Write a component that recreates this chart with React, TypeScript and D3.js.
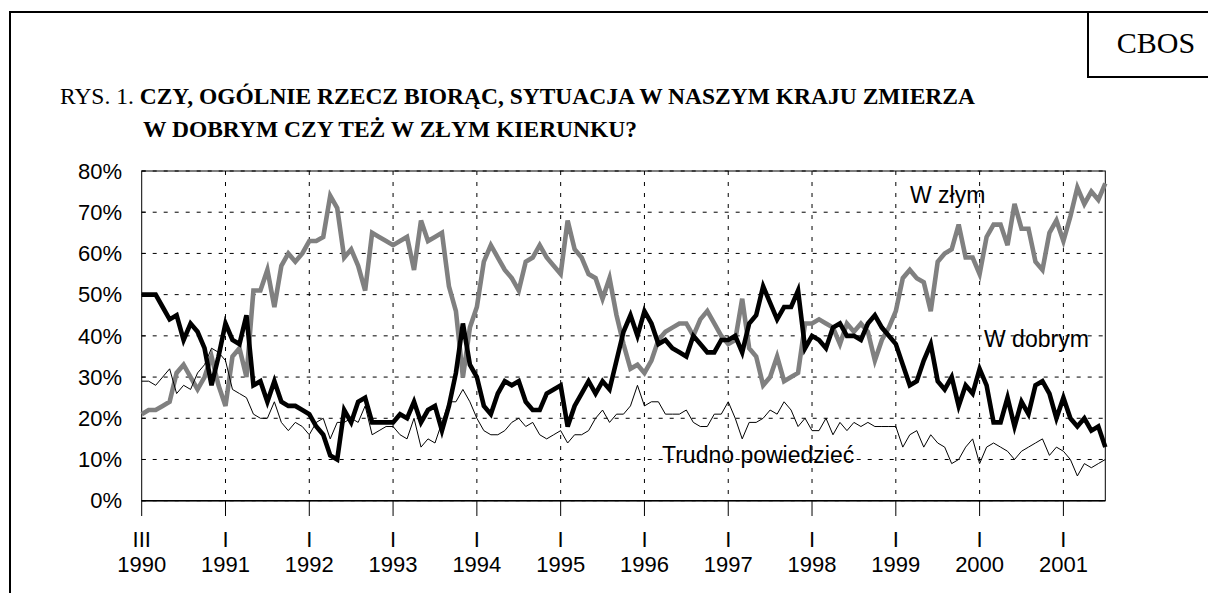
import React from "react";
import * as d3 from "d3";

// Survey index 0..138 (III 1990 ... VII 2001)
const wDobrym = [
  50,50,50,47,44,45,39,43,41,37,
  28,35,43,39,38,45,28,29,24,29,
  24,23,23,22,21,18,16,11,10,22,
  19,24,25,19,19,19,19,21,20,24,
  19,22,23,17,23,31,43,33,30,23,
  21,26,29,28,29,24,22,22,26,27,
  28,18,23,26,29,26,29,27,34,41,
  45,40,46,43,38,39,37,36,35,40,
  38,36,36,39,39,40,36,43,45,52,
  48,44,47,47,51,37,40,39,37,42,
  43,40,40,39,43,45,42,40,38,33,
  28,29,34,38,29,27,30,23,28,26,
  32,28,19,19,25,18,24,21,28,29,
  26,20,25,20,18,20,17,18,13,
];
const wZlym = [
  21,22,22,23,24,31,33,30,27,30,
  35,28,23,35,37,30,51,51,56,47,
  57,60,58,60,63,63,64,74,71,59,
  61,57,51,65,64,63,62,63,64,56,
  68,63,64,65,52,46,30,42,47,58,
  62,59,56,54,51,58,59,62,59,57,
  55,68,61,59,55,54,49,54,45,38,
  32,33,31,34,39,41,42,43,43,40,
  44,46,43,40,38,39,49,37,35,28,
  30,35,29,30,31,43,43,44,43,42,
  38,43,41,43,41,34,39,42,46,54,
  56,54,53,46,58,60,61,67,59,59,
  55,64,67,67,62,72,66,66,58,56,
  65,68,63,69,76,72,75,73,77,
];
const trudno = [
  29,29,28,30,32,26,28,27,31,33,
  37,36,34,27,26,25,21,20,20,24,
  19,17,19,18,16,19,20,15,19,19,
  20,19,23,16,17,18,18,16,15,20,
  13,15,14,19,24,24,27,24,20,17,
  16,16,17,19,20,18,19,16,15,16,
  17,14,16,16,17,20,22,19,21,21,
  23,28,23,24,24,21,21,21,22,19,
  18,18,21,21,24,20,15,19,19,20,
  22,21,24,22,18,20,17,17,20,16,
  19,17,19,18,19,18,18,18,18,13,
  16,17,13,16,14,13,9,10,13,15,
  9,13,14,13,12,10,12,13,14,15,
  11,13,12,10,6,9,8,9,10,
];

const tickMonths = ["III","I","I","I","I","I","I","I","I","I","I","I"];
const tickYears = ["1990","1991","1992","1993","1994","1995","1996","1997","1998","1999","2000","2001"];
const yTicks = [0,10,20,30,40,50,60,70,80];

const W = 1208, H = 593;
const plot = { left: 141.7, right: 1105.3, top: 171, bottom: 500.7 };
const sans = "'Liberation Sans', Arial, sans-serif";
const serif = "'Liberation Serif', 'Times New Roman', serif";

export default function App() {
  const n = wDobrym.length;
  const x = d3.scaleLinear().domain([0, n - 1]).range([plot.left, plot.right]);
  const y = d3.scaleLinear().domain([0, 80]).range([plot.bottom, plot.top]);
  const line = d3.line<number>().x((_, i) => x(i)).y((d) => y(d));
  const tickIdx = tickYears.map((_, k) => k * 12);

  return (
    <svg width={W} height={H} style={{ position: "absolute", left: 0, top: 0, background: "#fff" }}>
      <rect x={0} y={0} width={W} height={H} fill="#fff" />
      {/* outer frame */}
      <line x1={10} y1={12} x2={W} y2={12} stroke="#000" strokeWidth={2} />
      <line x1={10} y1={11} x2={10} y2={H} stroke="#000" strokeWidth={2} />
      <line x1={1088} y1={12} x2={1088} y2={77} stroke="#000" strokeWidth={2} />
      <line x1={1087} y1={77} x2={W} y2={77} stroke="#000" strokeWidth={2} />
      <text x={1156} y={53} fontFamily={serif} fontSize={30} textAnchor="middle">CBOS</text>

      {/* title */}
      <text x={60} y={104} fontFamily={serif} fontSize={23.5}>
        <tspan>RYS. 1. </tspan>
        <tspan fontWeight="bold">CZY, OGÓLNIE RZECZ BIORĄC, SYTUACJA W NASZYM KRAJU ZMIERZA</tspan>
      </text>
      <text x={143} y={137} fontFamily={serif} fontSize={23.5} fontWeight="bold">
        W DOBRYM CZY TEŻ W ZŁYM KIERUNKU?
      </text>

      {/* gridlines */}
      {yTicks.map((t) => (
        <line key={"hg" + t} x1={plot.left} x2={plot.right} y1={y(t)} y2={y(t)}
          stroke="#000" strokeWidth={1} strokeDasharray="4 7" />
      ))}
      {tickIdx.slice(1).map((i) => (
        <line key={"vg" + i} x1={x(i)} x2={x(i)} y1={plot.top} y2={plot.bottom}
          stroke="#000" strokeWidth={1} strokeDasharray="4 7" />
      ))}
      {/* plot border */}
      <rect x={plot.left} y={plot.top} width={plot.right - plot.left} height={plot.bottom - plot.top}
        fill="none" stroke="#000" strokeWidth={1} />
      <line x1={plot.left} x2={plot.right} y1={plot.bottom} y2={plot.bottom} stroke="#000" strokeWidth={1.5} />

      {/* y ticks & labels */}
      {yTicks.map((t) => (
        <g key={"yt" + t}>
          <line x1={plot.left} x2={plot.left + 4} y1={y(t)} y2={y(t)} stroke="#000" />
          <text x={122} y={y(t)} dy="0.35em" textAnchor="end" fontFamily={sans} fontSize={22}>{t}%</text>
        </g>
      ))}

      {/* x ticks & labels */}
      {tickIdx.map((i, k) => (
        <g key={"xt" + i}>
          <line x1={x(i)} x2={x(i)} y1={plot.bottom} y2={516} stroke="#000" strokeWidth={1} />
          <text x={x(i)} y={547} textAnchor="middle" fontFamily={sans} fontSize={22}>{tickMonths[k]}</text>
          <text x={x(i)} y={572} textAnchor="middle" fontFamily={sans} fontSize={22}>{tickYears[k]}</text>
        </g>
      ))}

      {/* series */}
      <path d={line(wZlym) || ""} fill="none" stroke="#808080" strokeWidth={4.6} strokeLinejoin="miter" />
      <path d={line(wDobrym) || ""} fill="none" stroke="#000" strokeWidth={4.6} strokeLinejoin="miter" />
      <path d={line(trudno) || ""} fill="none" stroke="#000" strokeWidth={1} />

      {/* series labels */}
      <text x={910} y={203} fontFamily={sans} fontSize={23}>W złym</text>
      <text x={984} y={347} fontFamily={sans} fontSize={23}>W dobrym</text>
      <text x={662} y={463} fontFamily={sans} fontSize={23}>Trudno powiedzieć</text>
    </svg>
  );
}
